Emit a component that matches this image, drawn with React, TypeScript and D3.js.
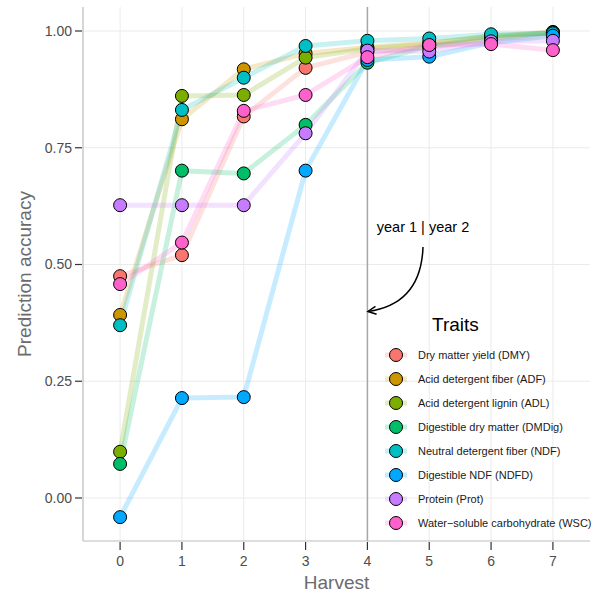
import React from "react";
import * as d3 from "d3";

// Harvest index on the x axis
const harvests = [0, 1, 2, 3, 4, 5, 6, 7];

// Trait names as shown in the legend, in plotting order
const traitNames = [
  "Dry matter yield (DMY)",
  "Acid detergent fiber (ADF)",
  "Acid detergent lignin (ADL)",
  "Digestible dry matter (DMDig)",
  "Neutral detergent fiber (NDF)",
  "Digestible NDF (NDFD)",
  "Protein (Prot)",
  "Water\u2212soluble carbohydrate (WSC)",
];

const traitColors = ["#F8766D", "#CD9600", "#7CAE00", "#00BE67", "#00BFC4", "#00A9FF", "#C77CFF", "#FF61CC"];

// Prediction accuracy per harvest for each trait
const dmy = [0.475, 0.52, 0.817, 0.921, 0.955, 0.965, 0.982, 0.992];
const adf = [0.392, 0.811, 0.918, 0.952, 0.965, 0.975, 0.988, 0.998];
const adl = [0.099, 0.861, 0.863, 0.943, 0.962, 0.972, 0.99, 0.996];
const dmdig = [0.073, 0.701, 0.695, 0.799, 0.932, 0.968, 0.985, 0.997];
const ndf = [0.37, 0.831, 0.9, 0.968, 0.979, 0.984, 0.993, 0.995];
const ndfd = [-0.041, 0.214, 0.216, 0.701, 0.938, 0.945, 0.975, 0.99];
const prot = [0.627, 0.627, 0.627, 0.781, 0.958, 0.956, 0.978, 0.979];
const wsc = [0.458, 0.547, 0.829, 0.863, 0.944, 0.97, 0.972, 0.959];

const seriesValues = [dmy, adf, adl, dmdig, ndf, ndfd, prot, wsc];

const yTicks = [0, 0.25, 0.5, 0.75, 1.0];

const W = 592;
const H = 595;
const left = 83;
const right = 590;
const top = 7;
const bottom = 541;

const FONT = "'Liberation Sans', Arial, Helvetica, sans-serif";

export default function App() {
  const x = d3.scaleLinear().domain([-0.6, 7.6]).range([left, right]);
  const y = d3.scaleLinear().domain([-0.0921, 1.0514]).range([bottom, top]);

  const line = d3
    .line<[number, number]>()
    .x((d) => x(d[0]))
    .y((d) => y(d[1]));

  const series = traitNames.map((name, i) => ({
    name,
    color: traitColors[i],
    points: harvests.map((h, j) => [h, seriesValues[i][j]] as [number, number]),
  }));

  // curved annotation arrow
  const a0: [number, number] = [423, 247];
  const a1: [number, number] = [368, 311.5];
  const ctrl: [number, number] = [421, 304];
  const path = d3.path();
  path.moveTo(a0[0], a0[1]);
  path.quadraticCurveTo(ctrl[0], ctrl[1], a1[0], a1[1]);
  const ang = Math.atan2(a1[1] - ctrl[1], a1[0] - ctrl[0]);
  const headLen = 9;
  const headSpread = 0.45;
  const h1: [number, number] = [a1[0] - headLen * Math.cos(ang - headSpread), a1[1] - headLen * Math.sin(ang - headSpread)];
  const h2: [number, number] = [a1[0] - headLen * Math.cos(ang + headSpread), a1[1] - headLen * Math.sin(ang + headSpread)];

  const legendX = 396;
  const legendY0 = 355;
  const legendStep = 24;

  return (
    <svg
      width={W}
      height={H}
      style={{ position: "absolute", left: 0, top: 0, background: "#fff" }}
      fontFamily={FONT}
    >
      {/* grid */}
      <g stroke="#ebebeb" strokeWidth={1}>
        {harvests.map((h) => (
          <line key={"gx" + h} x1={x(h)} x2={x(h)} y1={top} y2={bottom} />
        ))}
        {yTicks.map((t) => (
          <line key={"gy" + t} x1={left} x2={right} y1={y(t)} y2={y(t)} />
        ))}
      </g>

      {/* year boundary */}
      <line x1={x(4)} x2={x(4)} y1={top} y2={bottom} stroke="#a6a6a6" strokeWidth={1.5} />

      {/* axes */}
      <line x1={left} x2={left} y1={top} y2={bottom} stroke="#bdbdbd" strokeWidth={1.2} />
      <line x1={left} x2={right} y1={bottom} y2={bottom} stroke="#bdbdbd" strokeWidth={1.2} />
      {yTicks.map((t) => (
        <g key={"yt" + t}>
          <line x1={left - 8} x2={left - 1} y1={y(t)} y2={y(t)} stroke="#333" strokeWidth={1.2} />
          <text x={left - 11} y={y(t)} dy="0.35em" textAnchor="end" fontSize={14} fill="#4d4d4d">
            {t.toFixed(2)}
          </text>
        </g>
      ))}
      {harvests.map((h) => (
        <g key={"xt" + h}>
          <line x1={x(h)} x2={x(h)} y1={bottom + 1} y2={bottom + 9} stroke="#333" strokeWidth={1.2} />
          <text x={x(h)} y={561} dy="0.35em" textAnchor="middle" fontSize={14} fill="#4d4d4d">
            {h}
          </text>
        </g>
      ))}
      <text x={(left + right) / 2} y={582} dy="0.35em" textAnchor="middle" fontSize={19} fill="#6b6b6b">
        Harvest
      </text>
      <text
        transform={`translate(24,${(top + bottom) / 2}) rotate(-90)`}
        dy="0.35em"
        textAnchor="middle"
        fontSize={19}
        fill="#6b6b6b"
      >
        Prediction accuracy
      </text>

      {/* lines */}
      <g fill="none" strokeWidth={5} strokeOpacity={0.22} strokeLinejoin="round">
        {series.map((s) => (
          <path key={"l" + s.name} d={line(s.points) || ""} stroke={s.color} />
        ))}
      </g>

      {/* points */}
      {series.map((s) => (
        <g key={"p" + s.name}>
          {s.points.map((p, j) => (
            <circle key={j} cx={x(p[0])} cy={y(p[1])} r={6.5} fill={s.color} stroke="#000" strokeWidth={1} />
          ))}
        </g>
      ))}

      {/* annotation */}
      <text x={423} y={232} textAnchor="middle" fontSize={14.5} fill="#000">
        year 1 | year 2
      </text>
      <path d={path.toString()} fill="none" stroke="#000" strokeWidth={1.5} />
      <path d={`M${h1[0]},${h1[1]}L${a1[0]},${a1[1]}L${h2[0]},${h2[1]}`} fill="none" stroke="#000" strokeWidth={1.5} />

      {/* legend */}
      <text x={432} y={324} dy="0.35em" fontSize={19} fill="#000">
        Traits
      </text>
      {series.map((s, i) => {
        const cy = legendY0 + i * legendStep;
        return (
          <g key={"lg" + s.name}>
            <line x1={legendX - 11} x2={legendX + 11} y1={cy} y2={cy} stroke={s.color} strokeOpacity={0.22} strokeWidth={5} />
            <circle cx={legendX} cy={cy} r={6.5} fill={s.color} stroke="#000" strokeWidth={1} />
            <text x={418} y={cy} dy="0.35em" fontSize={11} fill="#1a1a1a">
              {s.name}
            </text>
          </g>
        );
      })}
    </svg>
  );
}
